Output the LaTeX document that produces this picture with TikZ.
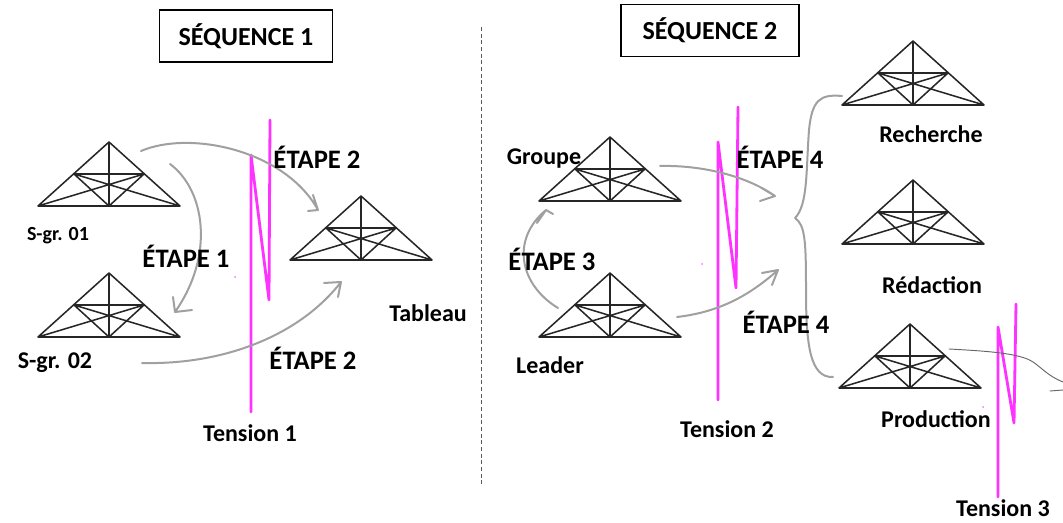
\documentclass[tikz,border=0pt]{standalone}
\usepackage{fontspec}
\setmainfont{Carlito}
\definecolor{pinkc}{RGB}{255,51,255}
\definecolor{handc}{RGB}{160,160,160}
\tikzset{
  lbl/.style={inner sep=0pt,font=\bfseries\fontsize{18}{21}\selectfont,text=black},
  small lbl/.style={inner sep=0pt,font=\bfseries\fontsize{15}{18}\selectfont,text=black},
  big/.style={inner sep=0pt,font=\bfseries\fontsize{20}{24}\selectfont,text=black},
  titlebox/.style={draw=black,line width=0.8pt,fill=white,minimum height=39pt,font=\bfseries\fontsize{19.5}{23}\selectfont,inner sep=0pt},
  pinkl/.style={draw=pinkc,line width=2.1pt,line join=round,line cap=round},
  hand/.style={draw=handc,line width=1.5pt,line cap=round,line join=round},
  thin hand/.style={draw=black!60,line width=0.7pt,line cap=round},
  roof/.pic={
    \draw[black!85,line width=1.15pt,line join=round]
      (0,0) -- (-71,64) -- (71,64) -- cycle
      (0,0) -- (0,64)
      (-35,32) -- (35,32)
      (-35,32) -- (71,64)
      (35,32) -- (-71,64)
      (-35,32) -- (0,64) -- (35,32);
  }
}
\begin{document}
\begin{tikzpicture}[x=0.75pt,y=-0.75pt]
\useasboundingbox (0,0) rectangle (1063,523);
\coordinate (t1) at (109,142);
\coordinate (t2) at (109,273);
\coordinate (t3) at (361,196);
\coordinate (t4) at (610,137);
\coordinate (t5) at (610,273);
\coordinate (t6) at (913,41);
\coordinate (t7) at (913,180);
\coordinate (t8) at (910,324);
\foreach \c in {t1,t2,t3,t4,t5,t6,t7,t8} \pic at (\c) {roof};

% separator
\coordinate (sepT) at (481,27);
\coordinate (sepB) at (481,486);
\draw[black!65,line width=0.6pt,dash pattern=on 3pt off 2pt] (sepT) -- (sepB);

% title boxes
\node[titlebox,minimum width=173*0.75pt] (s1) at (246,36) {SÉQUENCE 1};
\node[titlebox,minimum width=178*0.75pt] (s2) at (710,30.5) {SÉQUENCE 2};

% pink zigzags
\coordinate (pa1) at (251,412); \coordinate (pa2) at (251,155); \coordinate (pa3) at (269,300); \coordinate (pa4) at (270,120);
\draw[pinkl] (pa1) -- (pa2) -- (pa3) -- (pa4);
\coordinate (pb1) at (718,400); \coordinate (pb2) at (718,142); \coordinate (pb3) at (736,288); \coordinate (pb4) at (738,107);
\draw[pinkl] (pb1) -- (pb2) -- (pb3) -- (pb4);
\coordinate (pc1) at (998,497); \coordinate (pc2) at (998,327); \coordinate (pc3) at (1014,423); \coordinate (pc4) at (1016,304);
\draw[pinkl] (pc1) -- (pc2) -- (pc3) -- (pc4);
\fill[pinkc!70!white] (235,277) circle (1) (702,264) circle (1) (983,407) circle (1);

% hand-drawn arrows
\coordinate (a1) at (141,151); \coordinate (a2) at (318,210);
\draw[hand] (a1) .. controls (190,130) and (285,150) .. (a2) (a2) -- (313,195) (a2) -- (308,211);
\coordinate (b1) at (170,164); \coordinate (b2) at (175,312);
\draw[hand] (b1) .. controls (205,190) and (215,255) .. (b2) (b2) -- (173,297) (b2) -- (192,310);
\coordinate (c1) at (142,363); \coordinate (c3) at (341,282);
\draw[hand] (c1) .. controls (225,365) and (300,335) .. (c3) (c3) -- (324,283) (c3) -- (338,297);
\coordinate (d1) at (660,166); \coordinate (d2) at (775,196);
\draw[hand] (d1) .. controls (700,165) and (745,175) .. (d2) (d2) -- (760,187) (d2) -- (760,201);
\coordinate (e1) at (558,308); \coordinate (e2) at (546,210);
\draw[hand] (e1) .. controls (520,285) and (510,240) .. (e2) (e2) -- (537,223) (e2) -- (553,214);
\coordinate (f1) at (677,317); \coordinate (f2) at (778,270);
\draw[hand] (f1) .. controls (720,312) and (750,295) .. (f2) (f2) -- (762,273) (f2) -- (772,285);
% brace
\coordinate (g1) at (842,96); \coordinate (g2) at (795,218); \coordinate (g3) at (833,377);
\draw[hand] (g1) .. controls (820,94) and (812,100) .. (809,130) .. controls (806,170) and (808,205) .. (g2)
   (g2) .. controls (805,225) and (806,240) .. (806,290) .. controls (806,345) and (810,378) .. (g3);
% thin line to the right edge
\coordinate (h1) at (949,349); \coordinate (h2) at (1063,382);
\draw[thin hand] (h1) .. controls (985,351) and (1020,353) .. (1033,362) .. controls (1042,368) and (1048,376) .. (h2);
\coordinate (h3) at (1050,391); \coordinate (h4) at (1063,390);
\draw[thin hand] (h3) -- (h4);

% labels
\node[big] (e1l) at (186,256) {ÉTAPE 1};
\node[big] (e2a) at (317,157) {ÉTAPE 2};
\node[big] (e2b) at (313,358) {ÉTAPE 2};
\node[big] (e3) at (552,259) {ÉTAPE 3};
\node[big] (e4a) at (780,157) {ÉTAPE 4};
\node[big] (e4b) at (786,322) {ÉTAPE 4};
\node[small lbl] (n1) at (58,236) {S-gr. 01};
\node[lbl] (n2) at (55,363) {S-gr. 02};
\node[lbl] (n3) at (428,313) {Tableau};
\node[lbl] (n4) at (544,159) {Groupe};
\node[lbl] (n5) at (550,365) {Leader};
\node[lbl] (n6) at (931,134) {Recherche};
\node[lbl] (n7) at (932,285) {Rédaction};
\node[lbl] (n8) at (936,419) {Production};
\node[lbl] (n9) at (250,433) {Tension 1};
\node[lbl] (n10) at (727,429) {Tension 2};
\node[lbl] (n11) at (1003,508) {Tension 3};
\end{tikzpicture}
\end{document}
